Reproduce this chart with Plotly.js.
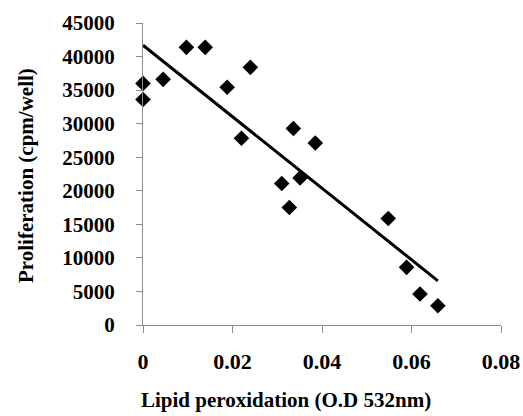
<!DOCTYPE html>
<html>
<head>
<meta charset="utf-8">
<script src="https://cdn.plot.ly/plotly-3.0.1.min.js"></script>
<style>
  html, body { margin: 0; padding: 0; background: #fff; }
  #chart { width: 523px; height: 416px; }
</style>
</head>
<body>
<div id="chart"></div>
<script>
// Lipid peroxidation (O.D 532 nm) versus proliferation (cpm/well)
const lipidPeroxidation = [0, 0, 0.0045, 0.0097, 0.0139, 0.0188, 0.022, 0.024,
  0.0336, 0.0385, 0.0351, 0.031, 0.0327, 0.0548, 0.0589, 0.0619, 0.0659];
const proliferation = [36000, 33600, 36600, 41370, 41370, 35420, 27830, 38390,
  29270, 27130, 21920, 21090, 17510, 15880, 8590, 4610, 2870];

const xTicks = [0, 0.02, 0.04, 0.06, 0.08];
const xTickText = ['0', '0.02', '0.04', '0.06', '0.08'];
const yTicks = [0, 5000, 10000, 15000, 20000, 25000, 30000, 35000, 40000, 45000];
const yTickText = ['0', '5000', '10000', '15000', '20000', '25000', '30000', '35000', '40000', '45000'];

const xTitle = 'Lipid peroxidation (O.D 532nm)';
const yTitle = 'Proliferation (cpm/well)';

// Least-squares linear trend line across the measured range
function linearFit(xs, ys) {
  const n = xs.length;
  const mx = xs.reduce((a, b) => a + b, 0) / n;
  const my = ys.reduce((a, b) => a + b, 0) / n;
  let sxy = 0, sxx = 0;
  for (let i = 0; i < n; i++) {
    sxy += (xs[i] - mx) * (ys[i] - my);
    sxx += (xs[i] - mx) * (xs[i] - mx);
  }
  const slope = sxy / sxx;
  return { slope: slope, intercept: my - slope * mx };
}
const fit = linearFit(lipidPeroxidation, proliferation);
const trendX = [Math.min(...lipidPeroxidation), Math.max(...lipidPeroxidation)];
const trendY = trendX.map(x => fit.intercept + fit.slope * x);

const font = 'Liberation Serif, Times New Roman, serif';
const bold = s => '<b>' + s + '</b>';

const traces = [
  {
    x: trendX, y: trendY, type: 'scatter', mode: 'lines',
    line: { color: '#000', width: 3 }, hoverinfo: 'skip', cliponaxis: false
  },
  {
    x: lipidPeroxidation, y: proliferation, type: 'scatter', mode: 'markers',
    marker: { symbol: 'diamond', size: 12, color: '#000', line: { width: 0 } },
    cliponaxis: false
  }
];

const W = 523, H = 416;
const M = { l: 143, r: 22, t: 23, b: 91 };

const layout = {
  width: W, height: H,
  margin: M,
  paper_bgcolor: '#fff', plot_bgcolor: '#fff',
  showlegend: false,
  font: { family: font, color: '#000' },
  xaxis: {
    range: [0, 0.08], tickvals: xTicks, ticktext: xTickText.map(bold),
    showgrid: false, zeroline: false, showline: true,
    linecolor: '#8c8c8c', linewidth: 1,
    ticks: 'outside', ticklen: 7, tickcolor: '#8c8c8c', tickwidth: 1,
    ticklabelstandoff: 10,
    tickfont: { family: font, size: 22, color: '#000' }
  },
  yaxis: {
    range: [0, 45000], tickvals: yTicks, ticktext: yTickText.map(bold),
    showgrid: false, zeroline: false, showline: true,
    linecolor: '#8c8c8c', linewidth: 1,
    ticks: 'outside', ticklen: 6, tickcolor: '#8c8c8c', tickwidth: 1,
    ticklabelstandoff: 17,
    tickfont: { family: font, size: 21, color: '#000' }
  },
  annotations: [
    {
      text: bold(xTitle), xref: 'paper', yref: 'paper',
      x: (285.5 - M.l) / (W - M.l - M.r), y: -(400 - (H - M.b)) / (H - M.t - M.b),
      xanchor: 'center', yanchor: 'middle', showarrow: false,
      font: { family: font, size: 21, color: '#000' }
    },
    {
      text: bold(yTitle), xref: 'paper', yref: 'paper', textangle: -90,
      x: -(M.l - 26) / (W - M.l - M.r), y: 1 - (176 - M.t) / (H - M.t - M.b),
      xanchor: 'center', yanchor: 'middle', showarrow: false,
      font: { family: font, size: 21, color: '#000' }
    }
  ]
};

Plotly.newPlot('chart', traces, layout, { displayModeBar: false, staticPlot: true });
</script>
</body>
</html>
